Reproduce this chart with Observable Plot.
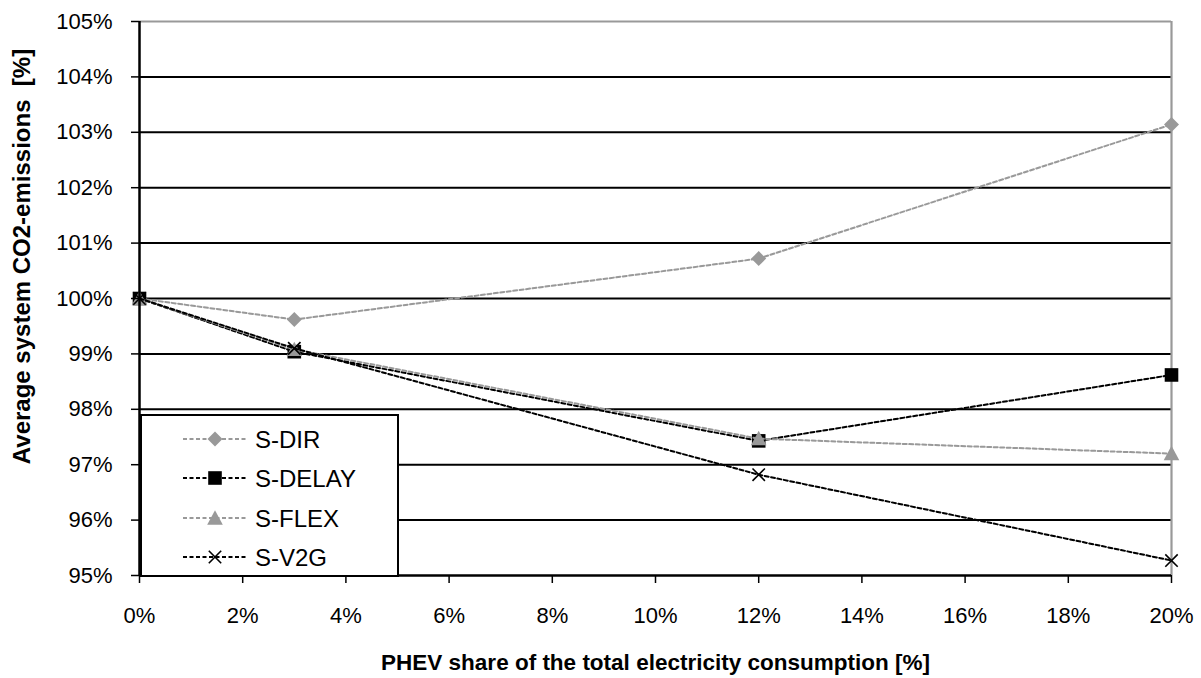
<!DOCTYPE html>
<html>
<head>
<meta charset="utf-8">
<script src="https://cdn.jsdelivr.net/npm/d3@7"></script>
<script src="https://cdn.jsdelivr.net/npm/@observablehq/plot@0.6"></script>
<style>
  html, body { margin: 0; padding: 0; background: #fff; }
  #chart { position: relative; width: 1201px; height: 678px; }
  svg { font-family: "Liberation Sans", Arial, sans-serif; }
</style>
</head>
<body>
<div id="chart"></div>
<script>
// ---- data ----
const xShare = [0, 3, 12, 20];                 // PHEV share [%]
const seriesNames = ["S-DIR", "S-DELAY", "S-FLEX", "S-V2G"];
const sDir   = [100, 99.62, 100.72, 103.14];
const sDelay = [100, 99.04, 97.43, 98.62];
const sFlex  = [100, 99.08, 97.47, 97.20];
const sV2G   = [100, 99.10, 96.82, 95.27];
const yTicks = [95, 96, 97, 98, 99, 100, 101, 102, 103, 104, 105];
const xTicks = [0, 2, 4, 6, 8, 10, 12, 14, 16, 18, 20];
const xLabel = "PHEV share of the total electricity consumption [%]";
const yLabel = "Average system CO2-emissions  [%]";

// ---- styles ----
const GRAY = "#999999";
const seriesValues = [sDir, sDelay, sFlex, sV2G];
const seriesColor = [GRAY, "#000000", GRAY, "#000000"];

// custom marker shapes (size = pi*r^2)
const symDiamond = { draw(ctx, size) { const r = Math.sqrt(size / Math.PI); ctx.moveTo(0, -r); ctx.lineTo(r, 0); ctx.lineTo(0, r); ctx.lineTo(-r, 0); ctx.closePath(); } };
const symSquare  = { draw(ctx, size) { const r = Math.sqrt(size / Math.PI); ctx.rect(-r, -r, 2 * r, 2 * r); } };
const symTri     = { draw(ctx, size) { const r = Math.sqrt(size / Math.PI); ctx.moveTo(0, -r); ctx.lineTo(r, r * 0.85); ctx.lineTo(-r, r * 0.85); ctx.closePath(); } };
const symTimes   = { draw(ctx, size) { const r = Math.sqrt(size / Math.PI); ctx.moveTo(-r, -r); ctx.lineTo(r, r); ctx.moveTo(r, -r); ctx.lineTo(-r, r); } };
const seriesSym = [symDiamond, symSquare, symTri, symTimes];
const seriesR = [7.5, 6.8, 7.8, 6.2];
const seriesFilled = [true, true, true, false];

const rows = seriesNames.map((name, i) =>
  xShare.map((x, j) => ({ series: name, x, y: seriesValues[i][j] }))
);

const seriesMarks = rows.flatMap((data, i) => [
  Plot.line(data, { x: "x", y: "y", stroke: seriesColor[i], strokeWidth: 2, strokeDasharray: "4,2.5" }),
  Plot.dot(data, {
    x: "x", y: "y", symbol: () => seriesSym[i], r: seriesR[i],
    fill: seriesFilled[i] ? seriesColor[i] : "none",
    stroke: seriesFilled[i] ? "none" : seriesColor[i],
    strokeWidth: 1.6
  })
]);

const plot = Plot.plot({
  width: 1201,
  height: 678,
  marginLeft: 139,
  marginRight: 30,
  marginTop: 21,
  marginBottom: 103,
  style: { fontFamily: "Liberation Sans, Arial, sans-serif", background: "#fff" },
  x: { domain: [0, 20] },
  y: { domain: [95, 105] },
  marks: [
    Plot.gridY(yTicks.slice(1, -1), { stroke: "#000", strokeOpacity: 1, strokeWidth: 2 }),
    Plot.ruleY([105], { stroke: GRAY, strokeWidth: 2.2 }),
    Plot.ruleX([20], { stroke: GRAY, strokeWidth: 2.2 }),
    ...seriesMarks,
    Plot.ruleX([0], { stroke: "#000", strokeWidth: 2.5 }),
    Plot.ruleY([95], { stroke: "#000", strokeWidth: 2.5 }),
    Plot.axisY(yTicks, {
      tickSize: 8, tickPadding: 19, tickFormat: d => d + "%",
      fontSize: 22, stroke: "#000", strokeWidth: 1.5, label: null, color: "#000"
    }),
    Plot.axisX(xTicks, {
      tickSize: 8, tickPadding: 24, tickFormat: d => d + "%",
      fontSize: 22, stroke: "#000", strokeWidth: 1.5, label: null, color: "#000"
    }),
    Plot.text([xLabel], {
      text: d => d, frameAnchor: "bottom", dy: 87, fontSize: 22.5, fontWeight: "bold",
      textAnchor: "middle", lineAnchor: "middle", fill: "#000"
    }),
    Plot.text([yLabel], {
      text: d => d, frameAnchor: "left", rotate: -90, dx: -117, dy: -42, fontSize: 24,
      fontWeight: "bold", textAnchor: "middle", lineAnchor: "middle", fill: "#000"
    })
  ]
});

document.getElementById("chart").appendChild(plot);

// ---- legend (inside the plot, lower left) ----
const svg = d3.select(plot);
const lg = svg.append("g").attr("class", "legend").attr("text-anchor", "start");
const box = { x: 141, y: 415, w: 257, h: 161 };
lg.append("rect").attr("x", box.x).attr("y", box.y).attr("width", box.w).attr("height", box.h)
  .attr("fill", "#fff").attr("stroke", "#000").attr("stroke-width", 2);
const rowY = [439, 478, 518, 557];
seriesNames.forEach((name, i) => {
  const y = rowY[i];
  lg.append("line").attr("x1", 183).attr("x2", 247).attr("y1", y).attr("y2", y)
    .attr("stroke", seriesColor[i]).attr("stroke-width", 2).attr("stroke-dasharray", "4,2.5");
  lg.append("path")
    .attr("d", d3.symbol().type(seriesSym[i]).size(Math.PI * seriesR[i] * seriesR[i])())
    .attr("transform", `translate(215,${y})`)
    .attr("fill", seriesFilled[i] ? seriesColor[i] : "none")
    .attr("stroke", seriesFilled[i] ? "none" : seriesColor[i])
    .attr("stroke-width", 1.6);
  lg.append("text").attr("x", 255).attr("y", y).attr("dy", "0.36em")
    .attr("text-anchor", "start")
    .attr("font-size", 24).attr("fill", "#000").text(name);
});
</script>
</body>
</html>
